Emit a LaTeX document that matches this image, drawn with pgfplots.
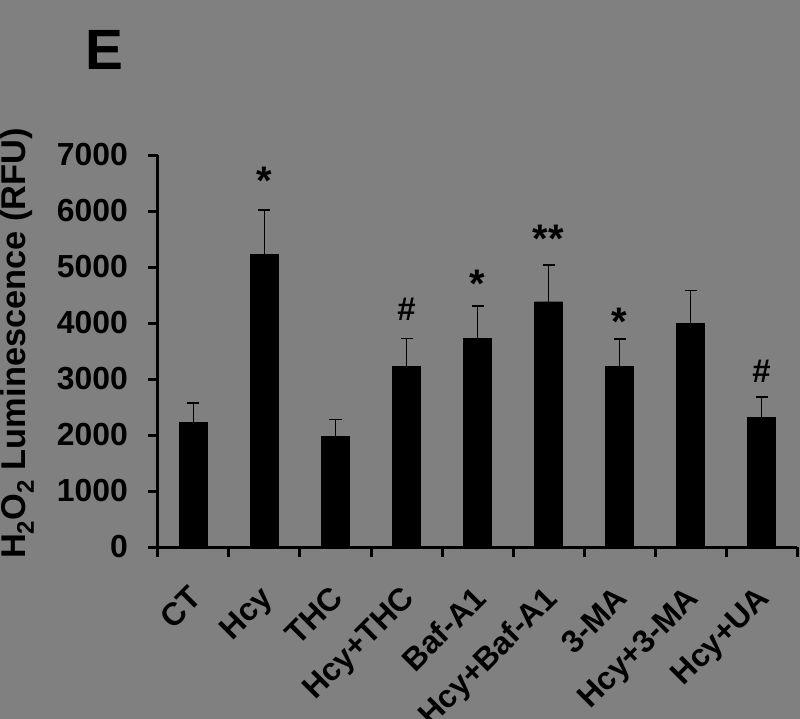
\documentclass[border=0pt]{standalone}
\usepackage{pgfplots}
\pgfplotsset{compat=1.18}
\usepackage{fontspec}
\setmainfont{Liberation Sans}
\definecolor{bg}{RGB}{128,128,128}
\pgfplotstableread{
x y e
0 2230 340
1 5220 800
2 1970 310
3 3220 500
4 3720 585
5 4380 660
6 3220 495
7 3990 590
8 2320 360
}\datatab
\begin{document}
\begin{tikzpicture}[font=\bfseries]
\useasboundingbox (-158bp,-172bp) rectangle (642bp,547bp);
\fill[bg] (-158bp,-172bp) rectangle (642bp,547bp);
\node[font=\bfseries\fontsize{57}{57}\selectfont] at (-54bp,497bp) {E};
\begin{axis}[
  scale only axis, width=639bp, height=392bp,
  xmin=-0.5, xmax=8.5, ymin=0, ymax=7000,
  axis x line*=bottom, axis y line*=left,
  axis line style={line width=3bp, -},
  tick align=outside,
  xtick={0,...,8},
  xticklabels={CT,Hcy,THC,Hcy+THC,Baf-A1,Hcy+Baf-A1,3-MA,Hcy+3-MA,Hcy+UA},
  minor xtick={-0.5,0.5,...,8.5},
  major x tick style={draw=none},
  minor x tick style={line width=3bp, black},
  minor tick length=10bp,
  major tick length=10bp,
  ytick={0,1000,...,7000},
  ytick style={line width=3bp, black},
  y tick label style={font=\bfseries\fontsize{32}{32}\selectfont, inner sep=2bp, xshift=-18bp},
  x tick label style={font=\bfseries\fontsize{32}{32}\selectfont, xshift=-6bp, yshift=-27bp, rotate=45, anchor=north east, inner sep=0pt},
  /pgf/number format/assume math mode=true,
  scaled y ticks=false,
  yticklabel style={/pgf/number format/1000 sep={}},
  ylabel={H\textsubscript{2}O\textsubscript{2} Luminescence (RFU)},
  ylabel style={font=\bfseries\fontsize{34.5}{34.5}\selectfont, at={(axis description cs:-0.22,0.519)}, anchor=center, rotate=0},
  clip=false,
]
\addplot[ybar, bar width=28bp, fill=black, draw=black,
  error bars/.cd, y dir=plus, y explicit,
  error bar style={line width=1.5bp, black},
  error mark options={rotate=90, mark size=6bp, line width=1.5bp, black}]
  table[x=x, y=y, y error=e] {\datatab};
\tikzset{ann/.style={font=\bfseries\fontsize{40}{40}\selectfont, anchor=north, inner sep=0pt},
         hash/.style={font=\bfseries\fontsize{33}{33}\selectfont, anchor=north, inner sep=0pt}}
\node[ann] at (axis cs:1,6786) {*};
\node[hash] at (axis cs:3,4445) {\#};
\node[ann] at (axis cs:4,4945) {*};
\node[ann] at (axis cs:5,5750) {**};
\node[ann] at (axis cs:6,4266) {*};
\node[hash] at (axis cs:8,3337) {\#};
\end{axis}
\end{tikzpicture}
\end{document}
